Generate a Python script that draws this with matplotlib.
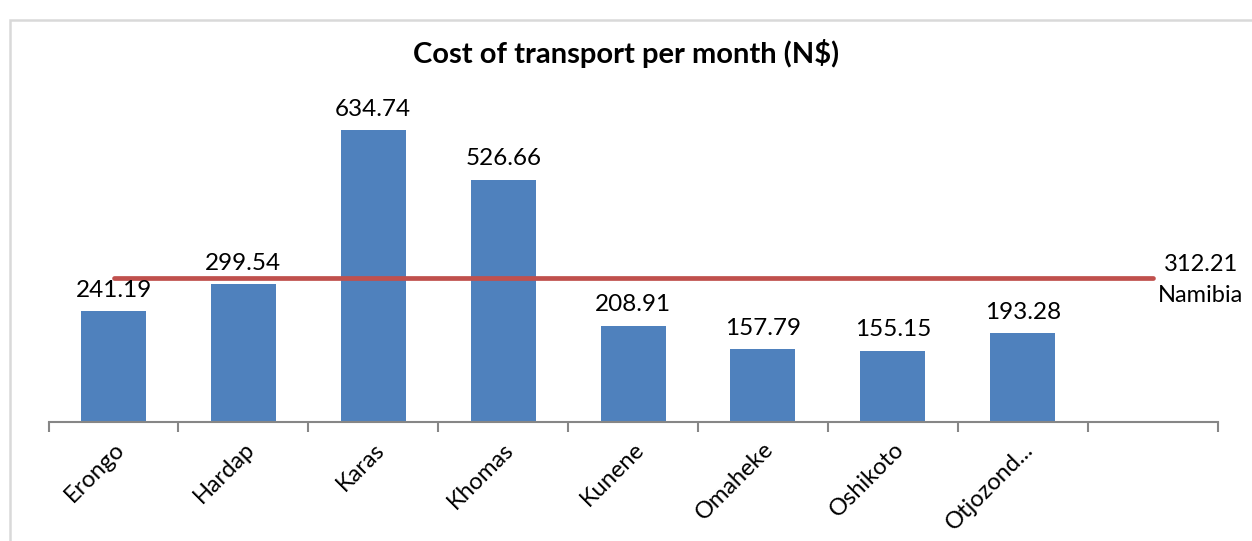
import matplotlib
matplotlib.use("Agg")
import matplotlib.pyplot as plt
from matplotlib.patches import Rectangle
from matplotlib.ticker import FixedLocator

categories = ["Erongo", "Hardap", "Karas", "Khomas", "Kunene", "Omaheke", "Oshikoto", "Otjozond..."]
values = [241.19, 299.54, 634.74, 526.66, 208.91, 157.79, 155.15, 193.28]
national_value = 312.21
national_label = "Namibia"
n_slots = 9

plt.rcParams['font.family'] = ['Lato', 'DejaVu Sans']

fig = plt.figure(figsize=(12.52, 5.41), dpi=100)
fig.patches.append(Rectangle((10/1252, -0.1), 1.2, 1 - 20/541 + 0.1, transform=fig.transFigure,
                             fill=False, edgecolor='#d9d9d9', linewidth=1.8))

ax = fig.add_axes([48.6/1252, 1 - 422/541, (1217.5 - 48.6)/1252, 322/541])
x = list(range(len(categories)))
bars = ax.bar(x, values, width=0.5, color='#4F81BD', zorder=2)
for xi, v in zip(x, values):
    ax.annotate(f"{v:.2f}", (xi, v), xytext=(0, 7.5), textcoords='offset points',
                ha='center', va='bottom', fontsize=17.5, color='#000000', zorder=5)

line_x = list(range(n_slots))
line_y = [national_value] * n_slots
ax.plot(line_x, line_y, color='#C0504D', linewidth=3.4, solid_capstyle='round', zorder=3)
ax.annotate(f"{national_value:.2f}\n{national_label}", (line_x[-1], national_value),
            xytext=(4, -1), textcoords='offset points', ha='left', va='center',
            multialignment='center', fontsize=17, linespacing=1.6, annotation_clip=False)

ax.set_xlim(-0.5, n_slots - 0.5)
ax.set_ylim(0, 700)
ax.yaxis.set_visible(False)
for s in ['left', 'right', 'top']:
    ax.spines[s].set_visible(False)
ax.spines['bottom'].set_color('#868686')
ax.spines['bottom'].set_linewidth(1.5)

ax.xaxis.set_major_locator(FixedLocator([i - 0.5 for i in range(n_slots + 1)]))
ax.xaxis.set_major_formatter(plt.NullFormatter())
ax.tick_params(axis='x', which='major', length=7, width=1.5, color='#868686', direction='out')
ax.set_xticks(x, minor=True)
ax.set_xticklabels(categories, minor=True, rotation=45, ha='right', va='top',
                   rotation_mode='anchor', fontsize=17)
ax.tick_params(axis='x', which='minor', length=0, pad=12)

fig.text(0.5, 1 - 53/541, "Cost of transport per month (N$)", ha='center', va='center',
         fontsize=21, fontweight='bold')

fig.savefig("out.png", dpi=100)
